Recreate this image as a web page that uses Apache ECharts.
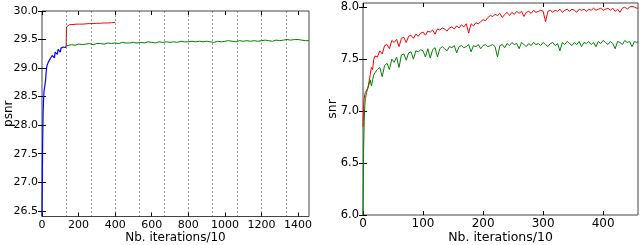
<!DOCTYPE html>
<html><head><meta charset="utf-8">
<script src="https://cdn.jsdelivr.net/npm/echarts@6/dist/echarts.min.js"></script>
<style>html,body{margin:0;padding:0;background:#fff}#c{width:640px;height:245px}</style>
</head><body><div id="c"></div>
<script>
// ---------- Left panel: psnr ----------
const psnrXTicks = [0,200,400,600,800,1000,1200,1400];
const psnrYTicks = [26.5,27.0,27.5,28.0,28.5,29.0,29.5,30.0];
const epochMarks = [133,267,400,533,667,800,933,1067,1200,1333];

const blueIter = [0,1,2,3,4,5,6,8,10,12,
  14,16,18,20,22,25,28,31,34,37,
  40,44,48,52,56,60,64,68,72,76,
  80,84,88,92,96,100,104,108,112,116,
  120,124,128,132];
const bluePsnr = [26.40,26.75,27.15,27.50,27.80,28.00,28.20,28.40,28.55,28.62,
  28.66,28.70,28.68,28.80,28.90,29.00,29.05,29.02,29.10,29.12,
  29.08,29.16,29.18,29.14,29.22,29.20,29.25,29.18,29.28,29.26,
  29.30,29.24,29.33,29.30,29.36,29.28,29.35,29.38,29.32,29.37,
  29.34,29.38,29.36,29.38];

const redIterL = [132,134,136,140,150,160,175,190,205,220,240,260,280,300,320,340,360,380,400];
const redPsnr = [29.38,29.72,29.75,29.75,29.76,29.76,29.765,29.77,29.77,29.77,29.775,29.78,29.78,29.785,29.785,29.79,29.79,29.795,29.80];

const greenIterL = [133,140,160,180,200,220,240,260,280,300,
  320,340,360,380,400,420,440,460,480,500,
  520,540,560,580,600,620,640,660,680,700,
  720,740,760,780,800,820,840,860,880,900,
  920,940,960,980,1000,1020,1040,1060,1080,1100,
  1120,1140,1160,1180,1200,1220,1240,1260,1280,1300,
  1320,1340,1360,1380,1400,1420,1440,1460];
const greenPsnr = [29.39,29.40,29.41,29.40,29.42,29.41,29.42,29.43,29.41,29.43,
  29.43,29.42,29.44,29.43,29.44,29.43,29.45,29.44,29.44,29.45,
  29.44,29.45,29.44,29.46,29.45,29.44,29.46,29.45,29.46,29.45,
  29.46,29.45,29.47,29.46,29.46,29.47,29.46,29.47,29.46,29.47,
  29.46,29.45,29.47,29.46,29.47,29.48,29.47,29.46,29.48,29.47,
  29.48,29.47,29.48,29.47,29.48,29.49,29.48,29.47,29.49,29.48,
  29.49,29.50,29.49,29.50,29.50,29.49,29.48,29.48];

// ---------- Right panel: snr ----------
const snrXTicks = [0,100,200,300,400];
const snrYTicks = [6.0,6.5,7.0,7.5,8.0];
const snrIter = [0,1,2,3,4,6,8,10,12,14,
  16,18,20,24,28,32,36,40,44,48,
  52,56,60,64,68,72,76,80,84,88,
  92,96,100,104,108,112,116,120,124,128,
  132,136,140,144,148,152,156,160,164,168,
  172,176,180,184,188,192,196,200,204,208,
  212,216,220,224,228,232,236,240,244,248,
  252,256,260,264,268,272,276,280,284,288,
  292,296,300,304,308,312,316,320,324,328,
  332,336,340,344,348,352,356,360,364,368,
  372,376,380,384,388,392,396,400,404,408,
  412,416,420,424,428,432,436,440,444,448,
  452,456,458];
const redSnr = [6.85,7.05,7.12,7.16,7.18,7.20,7.22,7.28,7.35,7.42,
  7.40,7.50,7.53,7.52,7.58,7.55,7.63,7.64,7.60,7.68,
  7.66,7.69,7.62,7.70,7.71,7.66,7.72,7.73,7.70,7.74,
  7.72,7.75,7.76,7.73,7.77,7.76,7.78,7.74,7.79,7.78,
  7.80,7.79,7.77,7.80,7.81,7.79,7.82,7.80,7.83,7.81,
  7.84,7.75,7.84,7.82,7.85,7.84,7.86,7.88,7.87,7.90,
  7.92,7.91,7.93,7.92,7.94,7.90,7.93,7.95,7.92,7.95,
  7.93,7.96,7.94,7.96,7.91,7.95,7.96,7.94,7.97,7.95,
  7.96,7.97,7.96,7.86,7.96,7.97,7.95,7.97,7.96,7.98,
  7.95,7.97,7.98,7.96,7.98,7.97,7.95,7.98,7.97,7.98,
  7.96,7.98,7.97,7.99,7.97,7.98,7.99,7.97,7.98,7.99,
  7.97,7.99,7.96,7.98,7.95,7.99,8.00,7.98,8.00,8.01,
  8.00,7.99,7.99];
const greenSnr = [6.00,6.60,6.90,7.05,7.12,7.18,7.22,7.26,7.30,7.24,
  7.30,7.35,7.37,7.40,7.42,7.33,7.44,7.46,7.40,7.50,
  7.47,7.52,7.42,7.54,7.55,7.49,7.56,7.57,7.50,7.58,
  7.57,7.59,7.58,7.52,7.60,7.51,7.59,7.61,7.52,7.60,
  7.62,7.60,7.58,7.62,7.61,7.63,7.56,7.62,7.63,7.61,
  7.62,7.64,7.57,7.63,7.62,7.64,7.60,7.63,7.64,7.62,
  7.63,7.64,7.62,7.52,7.63,7.64,7.61,7.65,7.63,7.66,
  7.64,7.65,7.60,7.66,7.64,7.62,7.65,7.63,7.66,7.64,
  7.65,7.63,7.66,7.64,7.62,7.65,7.66,7.63,7.65,7.58,
  7.66,7.64,7.67,7.65,7.63,7.66,7.64,7.67,7.62,7.66,
  7.65,7.67,7.64,7.66,7.62,7.67,7.65,7.68,7.66,7.64,
  7.67,7.65,7.60,7.67,7.66,7.64,7.68,7.66,7.67,7.62,
  7.67,7.66,7.67];

const zip = (xs, ys) => xs.map((x, i) => [x, ys[i]]);
const FONT = 'DejaVu Sans';
const txt = (size) => ({color:'#000', fontFamily:FONT, fontSize:size});

function xAx(gi, min, max, ticks, pos, withLabel, name, fs, nfs, gap) {
  return {
    type:'value', gridIndex:gi, min:min, max:max, position:pos,
    splitLine:{show:false},
    axisLine:{show:false},
    axisTick:{show:true, inside:true, length:4, customValues:ticks, lineStyle:{color:'#000'}},
    axisLabel:{show:withLabel, customValues:ticks, margin:3, formatter: v => String(v), ...txt(fs || 11)},
    name: withLabel ? name : '', nameLocation:'middle', nameGap:gap || 15, nameMoveOverlap:false,
    nameTextStyle:{...txt(nfs || 12)}
  };
}
function yAx(gi, min, max, ticks, pos, withLabel, name, fs, nfs, gap) {
  return {
    type:'value', gridIndex:gi, min:min, max:max, position:pos,
    splitLine:{show:false},
    axisLine:{show:false},
    axisTick:{show:true, inside:true, length:4, customValues:ticks, lineStyle:{color:'#000'}},
    axisLabel:{show:withLabel, customValues:ticks, margin:4, formatter: v => v.toFixed(1), ...txt(fs || 11)},
    name: withLabel ? name : '', nameLocation:'middle', nameGap:gap || 22, nameMoveOverlap:false,
    nameTextStyle:{...txt(nfs || 12)}
  };
}

const chart = echarts.init(document.getElementById('c'), null, {renderer:'canvas'});
chart.setOption({
  animation:false,
  backgroundColor:'#fff',
  grid:[
    {left:42, right:331, top:11, bottom:28.5, show:true, borderColor:'#444', borderWidth:1,
     backgroundColor:'transparent', outerBoundsMode:'none', containLabel:false},
    {left:363, right:2, top:3, bottom:30, show:true, borderColor:'#444', borderWidth:1,
     backgroundColor:'transparent', outerBoundsMode:'none', containLabel:false}
  ],
  xAxis:[
    xAx(0, 0, 1460, psnrXTicks, 'bottom', true, 'Nb. iterations/10', 11, 12, 15),
    xAx(0, 0, 1460, psnrXTicks, 'top', false, ''),
    xAx(1, 0, 458, snrXTicks, 'bottom', true, 'Nb. iterations/10', 12, 12.5, 16),
    xAx(1, 0, 458, snrXTicks, 'top', false, '')
  ],
  yAxis:[
    yAx(0, 26.4, 30.0, psnrYTicks, 'left', true, 'psnr', 11, 12, 27),
    yAx(0, 26.4, 30.0, psnrYTicks, 'right', false, ''),
    yAx(1, 6.0, 8.04, snrYTicks, 'left', true, 'snr', 11.5, 12.5, 24),
    yAx(1, 6.0, 8.04, snrYTicks, 'right', false, '')
  ],
  series:[
    {type:'line', xAxisIndex:0, yAxisIndex:0, data:zip(greenIterL, greenPsnr), showSymbol:false,
     lineStyle:{color:'#008000', width:1}, itemStyle:{color:'#008000'},
     markLine:{silent:true, symbol:'none', label:{show:false},
       lineStyle:{color:'#333', width:1, type:[1,3]},
       data: epochMarks.map(v => ({xAxis:v}))}},
    {type:'line', xAxisIndex:0, yAxisIndex:0, data:zip(redIterL, redPsnr), showSymbol:false,
     lineStyle:{color:'#ff0000', width:1}, itemStyle:{color:'#ff0000'}},
    {type:'line', xAxisIndex:0, yAxisIndex:0, data:zip(blueIter, bluePsnr), showSymbol:false,
     lineStyle:{color:'#0000ff', width:1.2}, itemStyle:{color:'#0000ff'}},
    {type:'line', xAxisIndex:2, yAxisIndex:2, data:zip(snrIter, redSnr), showSymbol:false,
     lineStyle:{color:'#ff0000', width:1}, itemStyle:{color:'#ff0000'}},
    {type:'line', xAxisIndex:2, yAxisIndex:2, data:zip(snrIter, greenSnr), showSymbol:false,
     lineStyle:{color:'#008000', width:1}, itemStyle:{color:'#008000'}}
  ]
});
</script>
</body></html>
